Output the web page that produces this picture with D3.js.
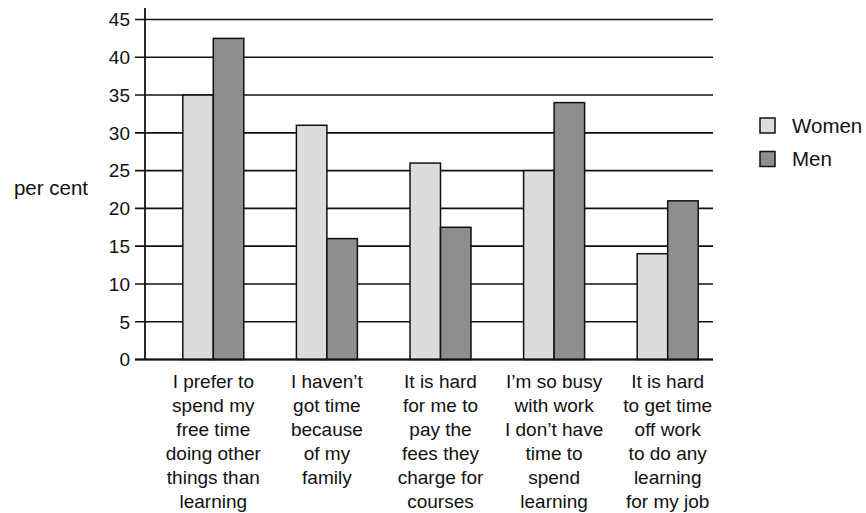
<!DOCTYPE html>
<html>
<head>
<meta charset="utf-8">
<script src="https://cdn.jsdelivr.net/npm/d3@7"></script>
<style>
  html, body { margin: 0; padding: 0; background: #fff; }
  svg text { font-family: "Liberation Sans", Arial, Helvetica, sans-serif; fill: #111; }
</style>
</head>
<body>
<svg id="chart" width="866" height="513"></svg>
<script>
// Reasons for not taking part in learning, by sex (per cent)
const categories = [
  ["I prefer to", "spend my", "free time", "doing other", "things than", "learning"],
  ["I haven\u2019t", "got time", "because", "of my", "family"],
  ["It is hard", "for me to", "pay the", "fees they", "charge for", "courses"],
  ["I\u2019m so busy", "with work", "I don\u2019t have", "time to", "spend", "learning"],
  ["It is hard", "to get time", "off work", "to do any", "learning", "for my job"]
];
const seriesNames = ["Women", "Men"];
const women = [35, 31, 26, 25, 14];
const men = [42.5, 16, 17.5, 34, 21];
const yTicks = [0, 5, 10, 15, 20, 25, 30, 35, 40, 45];

const colors = { Women: "#dcdcdc", Men: "#8e8e8e" };
const values = { Women: women, Men: men };

const svg = d3.select("#chart");
const fontSize = 19;
const sideFontSize = 20.5;

const axisX = 145, gridEnd = 713, tickStart = 135;
const y = d3.scaleLinear().domain([0, 45]).range([359.5, 19.5]);

const keys = categories.map((c, i) => i);
const x0 = d3.scaleBand().domain(keys).range([156.5, 724.5]).padding(0);
const groupW = 61;
const x1 = d3.scaleBand().domain(seriesNames).range([0, groupW]).padding(0);

// gridlines (with tick stubs left of the axis)
svg.append("g").selectAll("line").data(yTicks).join("line")
  .attr("x1", tickStart).attr("x2", gridEnd)
  .attr("y1", d => y(d)).attr("y2", d => y(d))
  .attr("stroke", "#111").attr("stroke-width", 1.6);

// y tick labels
svg.append("g").selectAll("text").data(yTicks).join("text")
  .attr("x", 130).attr("y", d => y(d)).attr("dy", "0.36em")
  .attr("text-anchor", "end").attr("font-size", fontSize)
  .text(d => d);

// y axis line
svg.append("line")
  .attr("x1", axisX).attr("x2", axisX)
  .attr("y1", 8).attr("y2", y(0))
  .attr("stroke", "#111").attr("stroke-width", 1.8);

// bars
const groups = svg.append("g").selectAll("g").data(keys).join("g")
  .attr("transform", i => `translate(${x0(i) + (x0.bandwidth() - groupW) / 2},0)`);
groups.selectAll("rect")
  .data(i => seriesNames.map(s => ({ s, v: values[s][i] })))
  .join("rect")
  .attr("x", d => x1(d.s))
  .attr("width", x1.bandwidth())
  .attr("y", d => y(d.v))
  .attr("height", d => y(0) - y(d.v))
  .attr("fill", d => colors[d.s])
  .attr("stroke", "#111").attr("stroke-width", 1.5);

// baseline on top of bars
svg.append("line")
  .attr("x1", tickStart).attr("x2", gridEnd)
  .attr("y1", y(0)).attr("y2", y(0))
  .attr("stroke", "#111").attr("stroke-width", 1.8);

// category labels
const labels = svg.append("g").selectAll("text").data(keys).join("text")
  .attr("text-anchor", "middle").attr("font-size", fontSize)
  .attr("transform", i => `translate(${x0(i) + x0.bandwidth() / 2},388)`);
labels.selectAll("tspan").data(i => categories[i]).join("tspan")
  .attr("x", 0).attr("y", (d, j) => j * 24).text(d => d);

// y axis title
svg.append("text")
  .attr("x", 51).attr("y", 188).attr("dy", "0.36em")
  .attr("text-anchor", "middle").attr("font-size", sideFontSize)
  .text("per cent");

// legend
const legend = svg.append("g").selectAll("g").data(seriesNames).join("g")
  .attr("transform", (d, i) => `translate(760,${118 + i * 33.5})`);
legend.append("rect")
  .attr("width", 15).attr("height", 15)
  .attr("fill", d => colors[d]).attr("stroke", "#111").attr("stroke-width", 1.5);
legend.append("text")
  .attr("x", 32).attr("y", 7.5).attr("dy", "0.36em")
  .attr("font-size", sideFontSize).text(d => d);
</script>
</body>
</html>
